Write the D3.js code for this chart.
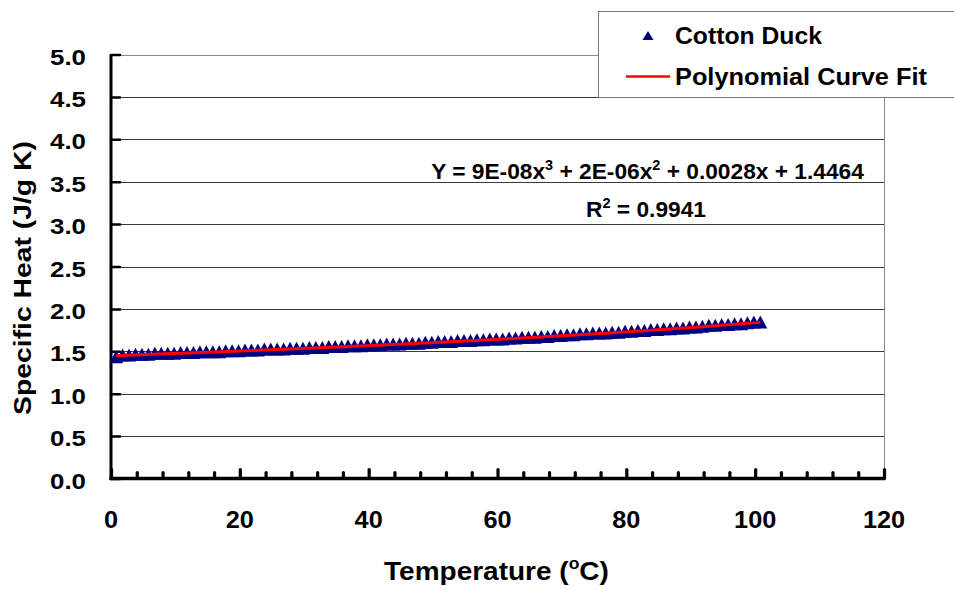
<!DOCTYPE html>
<html>
<head>
<meta charset="utf-8">
<script src="https://cdn.jsdelivr.net/npm/d3@7"></script>
<style>
  html, body { margin: 0; padding: 0; background: #fff; }
  svg { display: block; }
  text { font-family: "Liberation Sans", Arial, sans-serif; font-weight: bold; fill: #000; }
</style>
</head>
<body>
<script>
// Measured specific heat of cotton duck vs temperature
const temperatures = [
  0.8, 1.8, 2.8, 3.8, 4.8, 5.8, 6.8, 7.8, 8.8, 9.8,
  10.8, 11.8, 12.8, 13.8, 14.8, 15.8, 16.8, 17.8, 18.8, 19.8,
  20.8, 21.8, 22.8, 23.8, 24.8, 25.8, 26.8, 27.8, 28.8, 29.8,
  30.8, 31.8, 32.8, 33.8, 34.8, 35.8, 36.8, 37.8, 38.8, 39.8,
  40.8, 41.8, 42.8, 43.8, 44.8, 45.8, 46.8, 47.8, 48.8, 49.8,
  50.8, 51.8, 52.8, 53.8, 54.8, 55.8, 56.8, 57.8, 58.8, 59.8,
  60.8, 61.8, 62.8, 63.8, 64.8, 65.8, 66.8, 67.8, 68.8, 69.8,
  70.8, 71.8, 72.8, 73.8, 74.8, 75.8, 76.8, 77.8, 78.8, 79.8,
  80.8, 81.8, 82.8, 83.8, 84.8, 85.8, 86.8, 87.8, 88.8, 89.8,
  90.8, 91.8, 92.8, 93.8, 94.8, 95.8, 96.8, 97.8, 98.8, 99.8,
  100.8
];
const specificHeat = [
  1.43, 1.45, 1.45, 1.46, 1.46, 1.46, 1.47, 1.47, 1.47, 1.47,
  1.48, 1.48, 1.48, 1.49, 1.49, 1.49, 1.49, 1.50, 1.50, 1.50,
  1.51, 1.51, 1.51, 1.52, 1.52, 1.52, 1.52, 1.53, 1.53, 1.53,
  1.54, 1.54, 1.54, 1.55, 1.55, 1.55, 1.56, 1.56, 1.56, 1.57,
  1.57, 1.57, 1.58, 1.58, 1.58, 1.59, 1.59, 1.59, 1.60, 1.60,
  1.61, 1.61, 1.61, 1.62, 1.62, 1.62, 1.63, 1.63, 1.64, 1.64,
  1.64, 1.65, 1.65, 1.66, 1.66, 1.66, 1.67, 1.67, 1.68, 1.68,
  1.69, 1.69, 1.70, 1.70, 1.71, 1.71, 1.71, 1.72, 1.72, 1.73,
  1.73, 1.74, 1.74, 1.75, 1.75, 1.76, 1.76, 1.77, 1.77, 1.78,
  1.78, 1.79, 1.80, 1.80, 1.81, 1.81, 1.82, 1.82, 1.83, 1.84,
  1.84
];

// Cubic trendline coefficients (x^3, x^2, x, constant) and fit quality
const fitCoefficients = [9e-8, 2e-6, 0.0028, 1.4464];
const fitLabel = ["Y = 9E-08x", "3", " + 2E-06x", "2", " + 0.0028x + 1.4464"];
const rSquaredLabel = ["R", "2", " = 0.9941"];

const yTicks = [0, 0.5, 1.0, 1.5, 2.0, 2.5, 3.0, 3.5, 4.0, 4.5, 5.0];
const xMajorTicks = [0, 20, 40, 60, 80, 100, 120];
const xMinorTicks = [4, 8, 12, 16, 24, 28, 32, 36, 44, 48, 52, 56, 64, 68, 72, 76, 84, 88, 92, 96, 104, 108, 112, 116];
const seriesNames = ["Cotton Duck", "Polynomial Curve Fit"];

const W = 954, H = 591;
const plot = { left: 111, right: 884, top: 54.5, bottom: 478.5 };

const x = d3.scaleLinear().domain([0, 120]).range([plot.left, plot.right]);
const y = d3.scaleLinear().domain([0, 5]).range([plot.bottom, plot.top]);

const svg = d3.select("body").append("svg").attr("width", W).attr("height", H);
svg.append("rect").attr("width", W).attr("height", H).attr("fill", "#fff");

// Stretch text along its own direction so it spans a given length
function stretchTo(textSel, target, baseTransform) {
  const w = textSel.node().getComputedTextLength();
  const k = target / w;
  textSel.attr("transform", (baseTransform || "") + ` scale(${k},1)`);
}

// Horizontal gridlines
svg.append("g")
  .selectAll("line")
  .data(yTicks.filter(d => d > 0))
  .join("line")
  .attr("x1", plot.left).attr("x2", plot.right)
  .attr("y1", d => Math.round(y(d)) + 0.5).attr("y2", d => Math.round(y(d)) + 0.5)
  .attr("stroke", d => d === 5 ? "#8a8a8a" : "#3a3a3a")
  .attr("stroke-width", 1);

// Right border of the plot area
svg.append("line")
  .attr("x1", plot.right + 0.5).attr("x2", plot.right + 0.5)
  .attr("y1", plot.top).attr("y2", plot.bottom)
  .attr("stroke", "#8a8a8a").attr("stroke-width", 1);

// Y axis: inward ticks
const yAxis = svg.append("g")
  .attr("transform", `translate(${plot.left},0)`)
  .call(d3.axisRight(y).tickValues(yTicks).tickSize(9).tickFormat(""));
yAxis.select(".domain").remove();
yAxis.selectAll(".tick line").attr("stroke", "#000").attr("stroke-width", 2.5);

// X axis: major and minor inward ticks
const xMinor = svg.append("g")
  .attr("transform", `translate(0,${plot.bottom})`)
  .call(d3.axisTop(x).tickValues(xMinorTicks).tickSize(6).tickFormat(""));
xMinor.select(".domain").remove();
const xMajor = svg.append("g")
  .attr("transform", `translate(0,${plot.bottom})`)
  .call(d3.axisTop(x).tickValues(xMajorTicks).tickSize(9).tickFormat(""));
xMajor.select(".domain").remove();
svg.selectAll(".tick line").attr("stroke-linecap", "round");
xMinor.selectAll(".tick line").attr("stroke", "#000").attr("stroke-width", 3.2);
xMajor.selectAll(".tick line").attr("stroke", "#000").attr("stroke-width", 3.2);

// Axis lines
svg.append("line")
  .attr("x1", plot.left).attr("x2", plot.left)
  .attr("y1", plot.top).attr("y2", plot.bottom + 1.5)
  .attr("stroke", "#000").attr("stroke-width", 3);
svg.append("line")
  .attr("x1", plot.left - 1.5).attr("x2", plot.right + 1)
  .attr("y1", plot.bottom).attr("y2", plot.bottom)
  .attr("stroke", "#000").attr("stroke-width", 3.5);

// Tick labels
const yLabels = svg.append("g");
yTicks.forEach(v => {
  const t = yLabels.append("text")
    .attr("text-anchor", "end")
    .attr("font-size", 22.5)
    .text(v.toFixed(1));
  stretchTo(t, 36, `translate(86,${y(v) + 10})`);
});
const xLabels = svg.append("g");
xMajorTicks.forEach(v => {
  const t = xLabels.append("text")
    .attr("text-anchor", "middle")
    .attr("font-size", 23)
    .text(String(v));
  const natural = t.node().getComputedTextLength();
  stretchTo(t, natural * 1.1, `translate(${x(v)},528)`);
});

// Axis titles
const xTitle = svg.append("text")
  .attr("text-anchor", "middle")
  .attr("font-size", 25.5);
xTitle.append("tspan").text("Temperature (");
xTitle.append("tspan").attr("font-size", 16).attr("dy", -11).text("o");
xTitle.append("tspan").attr("dy", 11).text("C)");
stretchTo(xTitle, 225, "translate(496.5,580)");

const yTitle = svg.append("text")
  .attr("text-anchor", "middle")
  .attr("font-size", 24.5)
  .text("Specific Heat (J/g K)");
stretchTo(yTitle, 274, "translate(31,278) rotate(-90)");

// Data markers: filled triangles
const tri = "M0,-7 L7,6 L-7,6 Z";
svg.append("g")
  .selectAll("path")
  .data(temperatures.map((t, i) => [t, specificHeat[i]]))
  .join("path")
  .attr("d", tri)
  .attr("transform", d => `translate(${x(d[0])},${y(d[1])})`)
  .attr("fill", "#000080");

// Polynomial trendline drawn from its stated coefficients
const fit = t => fitCoefficients.reduce((acc, c) => acc * t + c, 0);
const fitX = d3.range(temperatures[0], temperatures[temperatures.length - 1] + 0.001, 0.5);
svg.append("path")
  .datum(fitX)
  .attr("d", d3.line().x(t => x(t)).y(t => y(fit(t))))
  .attr("fill", "none")
  .attr("stroke", "#ff0000")
  .attr("stroke-width", 3);

// Trendline equation and R-squared
function supText(parts, size, supSize) {
  const t = svg.append("text").attr("text-anchor", "middle").attr("font-size", size);
  parts.forEach((p, i) => {
    const isSup = i % 2 === 1;
    t.append("tspan")
      .attr("font-size", isSup ? supSize : size)
      .attr("dy", isSup ? -9 : (i > 0 ? 9 : 0))
      .text(p);
  });
  return t;
}
stretchTo(supText(fitLabel, 22, 14), 433, "translate(647.5,179)");
stretchTo(supText(rSquaredLabel, 22, 14), 120, "translate(646,216.5)");

// Legend
const legend = svg.append("g");
legend.append("rect")
  .attr("x", 598.5).attr("y", 11.5)
  .attr("width", 400).attr("height", 86)
  .attr("fill", "#fff").attr("stroke", "#7a7a7a").attr("stroke-width", 1);
legend.append("path")
  .attr("d", "M0,-5 L5.5,4 L-5.5,4 Z")
  .attr("transform", "translate(648,36)")
  .attr("fill", "#000080");
legend.append("line")
  .attr("x1", 626).attr("x2", 670).attr("y1", 76.5).attr("y2", 76.5)
  .attr("stroke", "#ff0000").attr("stroke-width", 2.5);
const l1 = legend.append("text").attr("font-size", 23).text(seriesNames[0]);
stretchTo(l1, 147, "translate(675,44)");
const l2 = legend.append("text").attr("font-size", 23).text(seriesNames[1]);
stretchTo(l2, 252, "translate(675,85)");
</script>
</body>
</html>
